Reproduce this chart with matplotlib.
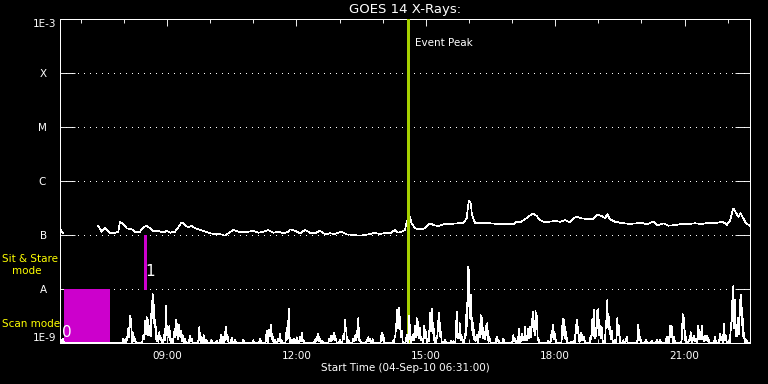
import numpy as np
import matplotlib
matplotlib.use("Agg")
import matplotlib.pyplot as plt

plt.rcParams["lines.antialiased"] = False
plt.rcParams["patch.antialiased"] = False

# ---------------- data ----------------
start_label = "Start Time (04-Sep-10 06:31:00)"
title = "GOES 14 X-Rays:"
start_clock = "06:31"
span_minutes = 960

xtick_labels = ["09:00", "12:00", "15:00", "18:00", "21:00"]
minor_clock = ["07:00", "08:00", "10:00", "11:00", "13:00", "14:00", "16:00",
               "17:00", "19:00", "20:00", "22:00"]

ytick_values = [1e-9, 1e-8, 1e-7, 1e-6, 1e-5, 1e-4, 1e-3]
ytick_labels = ["1E-9", "A", "B", "C", "M", "X", "1E-3"]
grid_levels = [1e-8, 1e-7, 1e-6, 1e-5, 1e-4]

# GOES long channel flux (hours after start, flux in units of 1e-7 W/m^2)
flux_hours_a = [0.0, 0.07]
flux_e7_a = [1.275, 1.103]
flux_hours = [0.888, 0.967, 1.043, 1.120, 1.159, 1.275, 1.352, 1.391, 1.468, 1.547,
              1.663, 1.739, 1.855, 1.932, 2.010, 2.087, 2.163, 2.279, 2.395, 2.474,
              2.551, 2.667, 2.743, 2.822, 2.899, 2.975, 3.054, 3.130, 3.246, 3.362,
              3.478, 3.594, 3.710, 3.826, 3.903, 4.019, 4.135, 4.250, 4.366, 4.482,
              4.598, 4.714, 4.830, 4.946, 5.062, 5.178, 5.294, 5.333, 5.449, 5.565,
              5.681, 5.797, 5.913, 6.029, 6.145, 6.261, 6.377, 6.532, 6.648, 6.801,
              6.957, 7.072, 7.188, 7.304, 7.420, 7.536, 7.652, 7.768, 7.845, 7.923,
              8.000, 8.039, 8.100, 8.155, 8.232, 8.348, 8.464, 8.580, 8.657, 8.772,
              8.888, 9.043, 9.199, 9.352, 9.431, 9.477, 9.523, 9.554, 9.623, 9.778,
              9.971, 10.163, 10.358, 10.511, 10.590, 10.667, 10.783, 10.859, 10.961, 11.054,
              11.130, 11.246, 11.362, 11.478, 11.594, 11.710, 11.810, 11.903, 11.981, 12.097,
              12.213, 12.367, 12.459, 12.561, 12.638, 12.691, 12.754, 12.870, 12.986, 13.101,
              13.217, 13.373, 13.489, 13.605, 13.758, 13.851, 13.990, 14.106, 14.261, 14.416,
              14.569, 14.725, 14.880, 15.033, 15.188, 15.344, 15.420, 15.459, 15.536, 15.612,
              15.675, 15.729, 15.784, 15.845, 15.907, 16.0]
flux_e7 = [1.468, 1.151, 1.331, 1.151, 1.103, 1.103, 1.151, 1.763, 1.599, 1.331,
           1.275, 1.151, 1.151, 1.389, 1.468, 1.331, 1.186, 1.186, 1.103, 1.201,
           1.103, 1.151, 1.389, 1.718, 1.531, 1.389, 1.468, 1.331, 1.238, 1.151,
           1.075, 1.044, 1.044, 0.971, 1.075, 1.238, 1.151, 1.151, 1.151, 1.201,
           1.103, 1.151, 1.238, 1.103, 1.151, 1.075, 1.151, 1.275, 1.201, 1.075,
           1.238, 1.103, 1.075, 1.201, 1.030, 1.075, 1.044, 1.151, 1.030, 1.0,
           0.971, 1.0, 1.044, 1.103, 1.030, 1.103, 1.075, 1.238, 1.103, 1.151,
           1.238, 1.763, 2.345, 1.647, 1.331, 1.275, 1.331, 1.647, 1.531, 1.468,
           1.578, 1.599, 1.647, 1.689, 2.038, 4.317, 3.864, 2.345, 1.689, 1.647,
           1.647, 1.599, 1.578, 1.578, 1.763, 1.718, 1.953, 2.182, 2.522, 2.248,
           1.896, 1.718, 1.763, 1.817, 1.763, 1.896, 1.718, 2.038, 2.182, 2.038,
           1.978, 1.978, 2.417, 2.248, 2.038, 2.417, 1.953, 1.763, 1.689, 1.647,
           1.599, 1.647, 1.689, 1.578, 1.763, 1.486, 1.647, 1.486, 1.531, 1.599,
           1.599, 1.647, 1.599, 1.689, 1.647, 1.763, 1.647, 1.531, 1.817, 3.121,
           2.588, 2.182, 2.522, 2.038, 1.647, 1.486]

# lower-panel spike series: (minutes after start, relative level; panel top = 324)
spike_min = [3.8, 88.1, 92.8, 95.0, 97.4, 98.8, 102.0, 104.3, 115.9, 118.3, 120.6, 122.9,
             125.2, 127.6, 129.0, 130.8, 132.6, 135.4, 138.2, 140.1, 144.7, 147.5, 149.8,
             152.1, 155.4, 159.0, 161.0, 163.2, 166.0, 167.9, 170.7, 173.9, 180.9, 183.2,
             193.8, 197.1, 200.3, 204.1, 211.1, 218.0, 224.0, 227.2, 230.5, 232.8, 238.9,
             243.5, 255.0, 268.9, 278.3, 287.6, 291.2, 293.1, 295.4, 299.1, 303.7, 306.1,
             308.4, 315.4, 318.2, 322.4, 325.6, 329.3, 333.9, 336.3, 338.5, 354.8, 357.1,
             359.4, 361.7, 364.9, 374.7, 377.0, 379.4, 381.6, 383.6, 389.6, 394.2, 396.5,
             397.9, 401.1, 408.1, 410.4, 412.8, 415.0, 417.4, 426.7, 428.9, 431.3, 435.1,
             447.6, 449.8, 463.7, 466.1, 467.5, 469.3, 471.2, 473.0, 475.4, 482.4, 486.0,
             489.3, 491.5, 493.9, 496.3, 498.5, 500.9, 503.2, 506.9, 509.2, 512.4, 514.8,
             517.1, 519.4, 524.1, 526.3, 527.7, 529.7, 535.7, 544.0, 547.2, 551.9, 554.2,
             556.5, 558.9, 563.5, 565.8, 568.1, 569.4, 571.4, 572.8, 575.0, 577.4, 579.7,
             583.0, 585.3, 587.5, 589.9, 592.3, 594.5, 597.3, 607.6, 609.8, 616.8, 630.7,
             633.0, 638.6, 642.4, 644.6, 647.0, 649.3, 651.6, 653.9, 656.3, 657.7, 659.5,
             661.8, 663.2, 665.5, 679.4, 684.1, 686.3, 688.7, 699.4, 701.6, 704.0, 711.9,
             714.2, 717.9, 719.7, 721.1, 724.4, 726.7, 729.0, 738.4, 740.6, 743.0, 745.3,
             747.1, 749.0, 751.3, 753.7, 759.7, 761.5, 763.4, 765.2, 767.6, 772.2, 775.4,
             777.7, 783.7, 788.4, 804.6, 807.0, 815.3, 823.3, 830.2, 834.8, 844.1, 848.7,
             851.1, 854.3, 865.0, 866.4, 868.2, 870.6, 875.5, 877.5, 880.3, 882.1, 884.4,
             888.1, 890.4, 892.8, 895.0, 897.4, 899.7, 902.0, 911.3, 918.3, 920.6, 923.8,
             926.2, 929.9, 933.6, 935.4, 936.8, 939.1, 941.5, 943.7, 946.1, 947.5, 949.3,
             951.6, 955.4]
spike_val = [4.7, 4.7, 6.3, 14.7, 28.7, 24.7, 9.7, 4.7, 8, 23, 28, 24.7,
             18, 44.7, 48.7, 39.7, 24.7, 8, 11.3, 6.3, 8, 37, 18,
             18, 4.7, 11.3, 23, 19.7, 18, 13, 8, 4.7, 8, 4.7,
             16.3, 6.3, 8, 3, 3, 2, 8, 6.3, 16.3, 8.7, 5.3,
             3, 3, 3, 4.7, 13, 14, 19.7, 9.7, 3, 4.7, 9.7,
             2, 16.3, 35.7, 3, 4.7, 5.3, 6.3, 10.7, 3, 3, 6.3,
             9.7, 4.7, 2, 4.7, 7.3, 8, 11.3, 4.7, 3, 8, 23,
             16.3, 3, 4.7, 8, 13, 24.7, 3, 3, 6.3, 4.7, 4,
             10.7, 8, 3, 8, 19.7, 34.7, 36.3, 26.3, 13, 8.7, 27,
             6.3, 8.7, 18, 25.7, 21.3, 16.3, 4.7, 18.7, 11.3, 4.7, 31.3,
             37, 21.3, 8, 23, 31.3, 11.3, 3, 2, 2, 33.7, 9.7,
             19.7, 6.3, 9.7, 41.3, 81.3, 78, 51.3, 26.3, 19.7, 6.3, 8.7,
             11.3, 28.7, 24.7, 11.3, 18, 19.7, 6.3, 7, 3, 4.7, 8,
             4.7, 14.7, 9.7, 5.3, 16.3, 4.7, 15.3, 17.3, 24.7, 32, 21.3,
             33, 28, 4.7, 2, 13, 18.7, 9.7, 26.3, 24.7, 11.3, 1.3,
             2, 19.7, 24, 13, 11.3, 8, 6.3, 8, 25.3, 33, 9.7,
             34.7, 34, 18, 16.3, 23, 43, 28.7, 16.3, 13, 3, 27,
             18, 3, 7, 19.7, 6.3, 3, 2, 3, 3, 7, 18,
             18, 6.3, 3, 30.7, 26.3, 6.3, 3, 10.7, 5.3, 7.3, 4.7,
             18.7, 8, 18, 6.3, 8, 7.3, 4.7, 6.3, 9.7, 6.3, 19.7,
             8, 2, 21.3, 46.3, 58.7, 46.3, 18, 26.3, 46.3, 48, 36.3,
             11.3, 3]

# observing modes (minutes after start)
scan_mode = (5.6, 69.6)
stare_mode = 117.6
event_peak = 484.0
mode_scan_label = "0"
mode_stare_label = "1"

# ---------------- helpers ----------------
def clock_to_min(s):
    h, m = s.split(":")
    sh, sm = start_clock.split(":")
    return int(h) * 60 + int(m) - (int(sh) * 60 + int(sm))

W, H = 768, 384
fig = plt.figure(figsize=(W / 100, H / 100), dpi=100, facecolor="black")
L, R, T, B = 60, 750, 19, 343
pos = [L / W, 1 - B / H, (R - L) / W, (B - T) / H]
ax = fig.add_axes(pos)
ax.set_facecolor("black")
ax.set_yscale("log")
ax.set_ylim(1e-9, 1e-3)
ax.set_xlim(0, span_minutes)

lw = 0.65
dlw = 0.45
white = "white"
for sp in ax.spines.values():
    sp.set_color(white)
    sp.set_linewidth(lw)
    sp.set_antialiased(False)

# grid
for g in grid_levels:
    ax.axhline(g, color=white, lw=lw, ls=(0, (1.1, 5.9)), zorder=1)

# modes
ax.fill_between(list(scan_mode), 1e-9, 1e-8, color="#cc00cc", lw=0, zorder=2)
ax.plot([stare_mode, stare_mode], [1e-8, 1e-7], color="#cc00cc", lw=2.0,
        solid_capstyle="butt", zorder=2)
ax.text(np.mean(scan_mode) - 28, 1.55e-9, mode_scan_label, color=white, fontsize=11,
        ha="center", va="center", zorder=5)
ax.text(stare_mode + 1.5, 2.15e-8, mode_stare_label, color=white, fontsize=11,
        ha="left", va="center", zorder=5)

# flux curve
ax.plot(np.array(flux_hours_a) * 60, np.array(flux_e7_a) * 1e-7, color=white, lw=dlw, zorder=4)
ax.plot(np.array(flux_hours) * 60, np.array(flux_e7) * 1e-7, color=white, lw=dlw, zorder=4)

# event peak
ax.axvline(event_peak, color="#a6d000", lw=1.8, zorder=6)
ax.text(event_peak + 10, 3.6e-4, "Event Peak", color=white, fontsize=7.5,
        ha="left", va="center")

# ticks
ax.set_yticks(ytick_values)
ax.yaxis.set_minor_locator(matplotlib.ticker.NullLocator())
ax.set_yticklabels([t if len(t) > 1 else t + "   " for t in ytick_labels])
for lab, txt in zip(ax.get_yticklabels(), ytick_labels):
    if txt == "1E-3":
        lab.set_va("top")
    elif txt == "1E-9":
        lab.set_va("bottom")
ax.tick_params(axis="y", which="major", direction="in", length=10.8, width=lw,
               colors=white, left=True, right=True, labelsize=7.5, pad=2.5)

ax.set_xticks([clock_to_min(s) for s in xtick_labels])
ax.set_xticklabels(xtick_labels)
ax.set_xticks([clock_to_min(s) for s in minor_clock], minor=True)
ax.tick_params(axis="x", which="major", direction="in", length=5, width=lw,
               colors=white, top=True, bottom=True, labelsize=7.5, pad=6)
ax.tick_params(axis="x", which="minor", direction="in", length=2.7, width=lw,
               colors=white, top=True, bottom=True)

# spike panel (linear, overlaid)
ax2 = fig.add_axes(pos, frameon=False)
ax2.set_xlim(0, span_minutes)
ax2.set_ylim(0, 324)
ax2.set_xticks([])
ax2.set_yticks([])
grid_t = np.arange(0, span_minutes + 0.25, 0.25)
sig = np.zeros_like(grid_t)
for m, v in zip(spike_min, spike_val):
    sig = np.maximum(sig, v * np.clip(1 - np.abs(grid_t - m) / 1.6, 0, None))
ax2.plot(grid_t, sig, color=white, lw=dlw, zorder=4)

# labels
fig.text(405 / W, 1 - 9 / H, title, color=white, fontsize=9.5, ha="center", va="center")
fig.text(405 / W, 1 - 368 / H, start_label, color=white, fontsize=7.5, ha="center", va="center")
yellow = "#ffff00"
fig.text(2 / W, 1 - 259 / H, "Sit & Stare", color=yellow, fontsize=7.5, ha="left", va="center")
fig.text(12 / W, 1 - 271 / H, "mode", color=yellow, fontsize=7.5, ha="left", va="center")
fig.text(2 / W, 1 - 324 / H, "Scan mode", color=yellow, fontsize=7.5, ha="left", va="center")

fig.savefig("out.png", dpi=100, facecolor="black")
